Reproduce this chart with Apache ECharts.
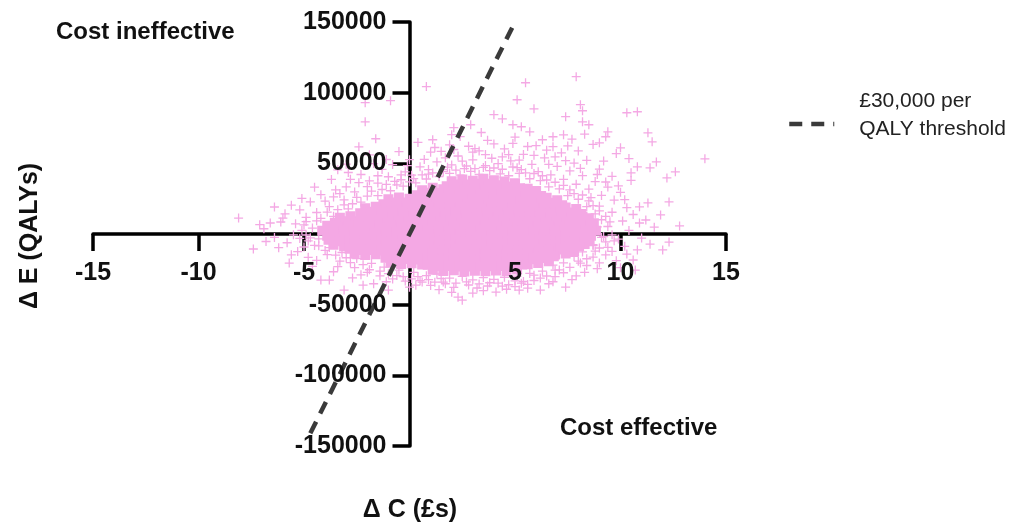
<!DOCTYPE html>
<html>
<head>
<meta charset="utf-8">
<script src="https://cdn.jsdelivr.net/npm/echarts@6/dist/echarts.min.js"></script>
<style>
  html, body { margin: 0; padding: 0; background: #fff; }
  #chart { width: 1020px; height: 525px; }
</style>
</head>
<body>
<div id="chart"></div>
<script>
// axis ranges and ticks
const xTicks = [-15, -10, -5, 0, 5, 10, 15];
const yTicks = [-150000, -100000, -50000, 0, 50000, 100000, 150000];

// threshold line (30,000 per QALY)
const thresholdLine = [[-4.7, -141000], [5, 150000]];

// dense centre of the bootstrap cloud
const cloudCore = [
  [2.0,33800],[2.5,35100],[3.0,34200],[3.5,35600],[4.0,34500],[4.5,33600],[5.0,32400],
  [0.6,27400],[1.1,29100],[1.6,28200],[2.1,29600],[2.6,27800],[3.1,28900],[3.6,27600],[4.1,29300],[4.6,28100],[5.1,27300],[5.6,28400],[6.0,26900],
  [-1.0,21000],[-0.5,22300],[0.0,21400],[0.5,22600],[1.0,21200],[1.5,22000],[2.0,21600],[2.5,22700],[3.0,21300],[3.5,22400],[4.0,21100],[4.5,22200],[5.0,21500],[5.5,22800],[6.0,21200],[6.5,22100],[7.0,20400],
  [-2.1,14600],[-1.6,15700],[-1.1,14800],[-0.6,15900],[-0.1,15100],[0.4,14500],[0.9,15800],[1.4,15200],[1.9,14400],[2.4,15600],[2.9,15000],[3.4,14300],[3.9,15700],[4.4,15100],[4.9,14600],[5.4,15800],[5.9,14900],[6.4,15400],[6.9,14700],[7.4,15200],[7.9,14100],
  [-3.3,8000],[-2.8,9100],[-2.3,8300],[-1.8,9400],[-1.3,8700],[-0.8,7900],[-0.3,9200],[0.2,8600],[0.7,9500],[1.2,8100],[1.7,8900],[2.2,9300],[2.7,8400],[3.2,7800],[3.7,9000],[4.2,8600],[4.7,9400],[5.2,8000],[5.7,8800],[6.2,9100],[6.7,8300],[7.2,8900],[7.7,8200],[8.2,8700],[8.5,7600],
  [-3.9,2300],[-3.4,1500],[-2.9,2600],[-2.4,1700],[-1.9,2400],[-1.4,1300],[-0.9,2800],[-0.4,1600],[0.1,2200],[0.6,1400],[1.1,2700],[1.6,1900],[2.1,2500],[2.6,1200],[3.1,2100],[3.6,2900],[4.1,1700],[4.6,2300],[5.1,1500],[5.6,2600],[6.1,1800],[6.6,2400],[7.1,1600],[7.6,2800],[8.1,1900],[8.6,2300],
  [-3.6,-4100],[-3.1,-5200],[-2.6,-4400],[-2.1,-5000],[-1.6,-3900],[-1.1,-4700],[-0.6,-5300],[-0.1,-4200],[0.4,-4900],[0.9,-3800],[1.4,-5100],[1.9,-4500],[2.4,-3900],[2.9,-5300],[3.4,-4400],[3.9,-4800],[4.4,-3700],[4.9,-5000],[5.4,-4300],[5.9,-5200],[6.4,-4000],[6.9,-4700],[7.4,-5100],[7.9,-4200],[8.3,-3500],
  [-2.6,-10500],[-2.1,-11400],[-1.6,-10800],[-1.1,-11700],[-0.6,-10400],[-0.1,-11200],[0.4,-10700],[0.9,-11800],[1.4,-10900],[1.9,-11500],[2.4,-10600],[2.9,-11300],[3.4,-10800],[3.9,-11900],[4.4,-10500],[4.9,-11100],[5.4,-11600],[5.9,-10700],[6.4,-11400],[6.9,-10900],[7.4,-10300],[7.8,-8600],
  [-0.9,-16800],[-0.4,-17700],[0.1,-17200],[0.6,-18100],[1.1,-17400],[1.6,-18300],[2.1,-17000],[2.6,-17900],[3.1,-17300],[3.6,-18200],[4.1,-17500],[4.6,-17900],[5.1,-17100],[5.6,-17800],[6.1,-16900],[6.6,-15800],
  [1.1,-21800],[1.6,-22700],[2.1,-22100],[2.6,-23000],[3.1,-22400],[3.6,-22900],[4.1,-22200],[4.6,-22600],[5.1,-21500]
];

// sparser points round the edge of the cloud and outliers
const cloudEdge = [
  [-3.6,12500],[-2.9,17800],[-2.3,22600],[-1.5,27200],[-0.9,30600],[-0.3,33900],[0.3,36200],[0.8,38900],[1.4,40700],[1.9,42900],[2.4,41600],[2.9,44300],[3.3,42100],[3.8,44800],[4.3,42600],[4.7,41200],[5.2,42900],[5.7,39100],[6.2,37800],[6.6,33400],[7.1,31900],[7.5,27200],[8.0,24600],[8.4,19300],[8.8,14200],[9.1,10100],
  [-4.3,-3400],[-3.8,-9600],[-3.2,-13100],[-2.5,-17400],[-1.8,-20800],[-1.2,-23400],[-0.5,-25600],[0.2,-27100],[0.8,-29500],[1.3,-28300],[1.9,-31200],[2.5,-30000],[3.0,-32400],[3.5,-30800],[4.0,-32100],[4.5,-30600],[5.1,-29800],[5.7,-27900],[6.3,-26300],[6.8,-22000],[7.3,-20400],[7.8,-15900],[8.2,-12700],[8.7,-7600],[9.1,-2400],
  [-4.6,4200],[-4.9,-700],[-4.4,9300],
  [-4.2,11000],[-3.9,15500],[-3.4,17200],[-3.1,20600],[-2.7,21400],[-2.5,25900],[-2.0,26800],[-1.8,30400],[-1.3,31500],[-1.1,35100],[-0.7,37200],[-0.4,38400],[0.0,36900],[0.1,41600],[0.6,41800],[0.9,45600],[1.1,43200],[1.6,44100],[1.8,47300],[2.2,45200],[2.7,48100],[3.1,46200],[3.6,48400],[4.0,46700],[4.4,45800],[4.9,47400],[5.3,45600],[5.5,43300],[5.9,42800],[6.3,41200],[6.5,38200],[6.9,36600],[7.3,34400],[7.6,31200],[7.8,28500],[8.2,27600],[8.5,23400],[8.7,20100],[9.0,16300],[9.3,12400],[9.4,5300],[9.6,-600],[9.3,-5600],[9.0,-9900],
  [-4.8,-4900],[-4.3,-8400],[-4.0,-11600],[-3.5,-14900],[-3.0,-16800],[-2.8,-20300],[-2.2,-21700],[-1.9,-25300],[-1.4,-26200],[-1.0,-28100],[-0.6,-29400],[-0.3,-30200],[0.1,-31700],[0.5,-33000],[0.9,-32300],[1.2,-34100],[1.7,-35200],[2.2,-34700],[2.8,-36100],[3.3,-35300],[3.7,-36800],[4.2,-34800],[4.7,-35900],[5.0,-37200],[5.4,-33600],[5.9,-32900],[6.5,-29700],[6.9,-30100],[7.1,-25400],[7.6,-23600],[8.0,-19200],[8.4,-17500],[8.8,-12100],[9.4,-9400],[9.7,-4800],
  [-5.1,2600],[-5.0,6400],[-4.7,-2700],[-5.5,-600],[-4.9,8800],
  [-1.5,36000],[-1.0,40500],[-0.6,34800],[-0.2,44000],[0.2,39200],[0.5,47500],[0.9,42300],[1.3,51000],[1.6,45600],[2.0,48900],[2.3,55200],[2.6,46300],[3.0,52400],[3.3,58800],[3.5,47100],[3.9,53600],[4.2,49800],[4.5,60200],[4.8,51700],[5.1,46900],[5.4,56300],[5.8,49200],[6.1,44100],[6.4,53800],[6.7,41900],[7.0,47800],[7.3,38700],[7.6,44600],[7.9,35200],[8.2,41300],[8.5,31800],[8.8,37100],[9.1,27300],[9.4,33200],[9.7,24000],[10.0,29500],[10.3,18600],[9.0,45900],[8.4,52100],[7.2,57400],[6.0,62500],[2.8,62100],[1.0,57900],[0.0,52600],[-0.8,49100],[3.7,66300],[5.0,68500],[6.5,59300],[7.8,50200],[9.6,40800],
  [-0.1,48400],[0.7,52800],[1.7,53900],[2.5,51600],[3.6,56200],[4.4,54500],[5.2,52200],[5.9,55700],[6.6,49300],[7.4,51900],[8.1,46400],[8.9,42100],[9.3,36800],[9.9,34100],[10.2,24300],[10.5,37900],[3.0,57900],[2.1,59800],[4.9,64100],[6.8,61800],[-1.5,41200],[-2.4,36300],[-3.3,28600],[-4.0,23300],[-5.2,17100],[-6.0,11200],[-6.6,7800],[-3.0,49400],
  [-2.6,29800],[-2.0,33500],[-3.1,24100],[-3.8,19400],[-4.4,15200],[-2.8,38700],[-1.3,45700],[-0.5,58300],[-3.5,31200],[-4.9,11800],[-5.4,7200],[-5.9,14300],[-4.2,27800],
  [-4.5,-8100],[-3.9,-14600],[-3.3,-19200],[-2.6,-23800],[-2.0,-27100],[-1.4,-29600],[-0.8,-31800],[-0.2,-33300],[0.4,-30100],[1.0,-36400],[1.5,-31500],[2.1,-37800],[2.7,-33900],[3.2,-38200],[3.8,-34500],[4.4,-36900],[5.0,-33100],[5.6,-35700],[6.2,-31200],[6.8,-33800],[7.3,-27400],[7.9,-29600],[8.4,-22300],[8.9,-24500],[9.3,-14800],[9.8,-18900],[10.2,-8700],[-5.2,-3100],[-4.8,-16500],[-5.3,-12400],[9.9,-3600],[10.4,2500],[10.1,9200],[9.6,15400],[10.6,13800],[11.0,-2900],
  [-5.0,-9200],[-4.4,-18700],[-3.4,-23100],[-2.3,-28900],[-1.1,-33800],[0.3,-36200],[1.4,-39400],[2.0,-41300],[3.5,-40100],[4.6,-39100],[5.6,-38300],[6.6,-35200],[7.7,-32300],[8.3,-27100],[9.0,-20500],[9.6,-12300],[10.3,-14200],[10.0,-23800],[11.4,-7200],[11.6,4800],[10.9,19200],[-6.2,-9700],[-6.8,-5300],[-7.1,6600],
  [8.9,5100],[9.2,-1800],[8.7,-8200],[9.5,8600],[9.0,19700],[8.6,25800],
  [1.5,58500],[2.4,68900],[3.1,60400],[4.0,63700],[4.7,56100],[5.6,61900],[6.3,66700],[7.5,62300],[8.0,58800],[8.7,63400],[6.9,54600],[3.4,71800],[2.0,70300],[1.2,61200],[0.4,64800],[8.3,70600],[7.7,67100],[9.8,56900],[10.4,53400],[9.2,51600],
  [-2.3,42100],[-1.7,49800],[-1.1,52700],[-0.4,41800],[-2.9,43500],[-3.7,38600],[-4.5,33100],[-5.1,25200],[-5.6,20400],[-1.9,37600],
  [-5.8,-6200],[-6.4,-2400],[-6.9,3700],[-5.6,-14700],[-4.6,-22900],[-3.6,-26700],[-2.7,-31100],[-1.7,-35200],
  [0.8,104300],[-2.1,92900],[-0.9,94300],[-2.1,79400],[5.5,107000],[5.1,95000],[5.9,88600],[4.0,84400],[4.4,81500],[4.9,77300],[5.3,75900],[2.9,77300],[2.1,75200],
  [-1.6,67400],[-2.4,61700],[-1.9,56000],[-3.4,45400],[-3.0,33300],[-3.6,26200],[-4.7,22700],[-6.4,19100],
  [7.9,111300],[8.1,91500],[8.2,87200],[7.4,83000],[10.3,85800],[10.8,86500],[8.2,79400],[8.5,77300],[11.3,71600],[11.5,65200],[9.4,72300],[9.3,68800],[7.3,70200],[6.8,68800],[10.0,61000],
  [11.7,51000],[11.4,46800],[12.2,39700],[10.5,43300],[10.8,47500],[1.1,66700],[1.9,63100],[5.7,72300],[14.0,53200],[12.6,44000],
  [12.8,5700],[12.3,-5700],[12.0,-11300],[11.9,13500],[10.8,-11300],[10.9,7800],[11.2,9900],[9.0,64500],[10.6,-18400],[10.7,-25500],[11.3,22000],[12.3,22700],
  [-8.1,11300],[-7.4,-10600],[-6.1,8500],[-5.7,-20600],[-4.2,-32600],[-3.8,-32600],[-3.1,-39700],[-2.2,-36200],[-1.0,-39700],[0.0,-37600],[0.6,-34000],[1.6,-34000],
  [2.3,-44700],[2.5,-46800],[3.0,-41800],[4.1,-41100],[5.2,-39700],[6.2,-39700],[7.4,-37600],[5.9,-29100],[6.9,-25500],[8.1,-20600],[8.7,-16300],[5.3,-34800]
];

const pink = "#f4a8e4";
const plusPath = "path://M0,5L10,5M5,0L5,10";
const fatPlusPath = "path://M2.5,0H7.5V2.5H10V7.5H7.5V10H2.5V7.5H0V2.5H2.5Z";
const fontFamily = "'Liberation Sans', Arial, sans-serif";
const lineName = "£30,000 per\nQALY threshold";

const W = 1020, H = 525;
const gridBox = { left: 93, right: 294, top: 22, bottom: 79 };
const xMin = xTicks[0], xMax = xTicks[xTicks.length - 1];
const yMin = yTicks[0], yMax = yTicks[yTicks.length - 1];
// where the zero lines fall, so the label-only axes can sit on them
const plotW = W - gridBox.left - gridBox.right;
const plotH = H - gridBox.top - gridBox.bottom;
const zeroX = gridBox.left + (plotW * (0 - xMin)) / (xMax - xMin);
const zeroY = gridBox.top + (plotH * (yMax - 0)) / (yMax - yMin);

const chart = echarts.init(document.getElementById("chart"));

const hideZero = (v) => (v === 0 ? "" : String(v));
const labelText = { fontFamily, fontSize: 25, fontWeight: "bold", color: "#111" };

// two axes per direction: one for line + ticks (under the points), one for labels (over them)
const xBase = { type: "value", min: xMin, max: xMax, interval: xTicks[1] - xTicks[0], position: "bottom", splitLine: { show: false } };
const yBase = { type: "value", min: yMin, max: yMax, interval: yTicks[1] - yTicks[0], position: "left", splitLine: { show: false } };

const option = {
  animation: false,
  backgroundColor: "#fff",
  grid: { ...gridBox, containLabel: false, outerBoundsMode: "none" },
  xAxis: [
    {
      ...xBase,
      z: 0,
      axisLine: { onZero: true, lineStyle: { color: "#000", width: 3.5 } },
      axisTick: { show: true, length: 17, lineStyle: { color: "#000", width: 3.5 } },
      axisLabel: { show: false },
    },
    {
      ...xBase,
      z: 10,
      offset: zeroY - (H - gridBox.bottom),
      axisLine: { show: false, onZero: false },
      axisTick: { show: false },
      axisLabel: { margin: 27, formatter: hideZero, ...labelText },
    },
  ],
  yAxis: [
    {
      ...yBase,
      z: 0,
      axisLine: { onZero: true, lineStyle: { color: "#000", width: 3.5 } },
      axisTick: { show: true, length: 17, lineStyle: { color: "#000", width: 3.5 } },
      axisLabel: { show: false },
    },
    {
      ...yBase,
      z: 10,
      offset: gridBox.left - zeroX,
      axisLine: { show: false, onZero: false },
      axisTick: { show: false },
      axisLabel: { margin: 23, formatter: hideZero, ...labelText },
    },
  ],
  legend: {
    data: [lineName],
    left: 787,
    top: 87,
    padding: 0,
    itemWidth: 45,
    itemHeight: 18,
    icon: "path://M0,18L45,18M0,0",
    itemStyle: { color: "rgba(0,0,0,0)", borderColor: "#3a3a3a", borderWidth: 4.5, borderType: [13, 9] },
    textStyle: { fontFamily, fontSize: 21, lineHeight: 28, color: "#222", padding: [0, 0, 0, 20] },
  },
  graphic: [
    {
      type: "text",
      left: 56,
      top: 20,
      style: { text: "Cost ineffective", font: "bold 24px " + fontFamily, fill: "#111" },
    },
    {
      type: "text",
      left: 560,
      top: 416,
      style: { text: "Cost effective", font: "bold 24px " + fontFamily, fill: "#111" },
    },
    {
      type: "text",
      x: 410,
      y: 510,
      style: { text: "\u0394 C (£s)", font: "bold 25px " + fontFamily, fill: "#111", align: "center", verticalAlign: "middle" },
    },
    {
      type: "text",
      x: 30,
      y: 236,
      rotation: Math.PI / 2,
      style: { text: "\u0394 E (QALYs)", font: "bold 25px " + fontFamily, fill: "#111", align: "center", verticalAlign: "middle" },
    },
  ],
  series: [
    {
      name: "core",
      type: "scatter",
      data: cloudCore,
      symbol: fatPlusPath,
      symbolSize: 20,
      itemStyle: { color: pink, opacity: 1 },
      z: 2,
    },
    {
      name: "edge",
      type: "scatter",
      data: cloudEdge,
      symbol: plusPath,
      symbolSize: 9,
      itemStyle: { color: pink, borderColor: pink, borderWidth: 1.3, opacity: 1 },
      z: 3,
    },
    {
      name: lineName,
      type: "line",
      data: thresholdLine,
      symbol: "none",
      lineStyle: { color: "#3a3a3a", width: 4.5, type: [13, 9] },
      itemStyle: { color: "#3a3a3a" },
      z: 5,
    },
  ],
};

chart.setOption(option);
window.addEventListener("resize", () => chart.resize());
</script>
</body>
</html>
